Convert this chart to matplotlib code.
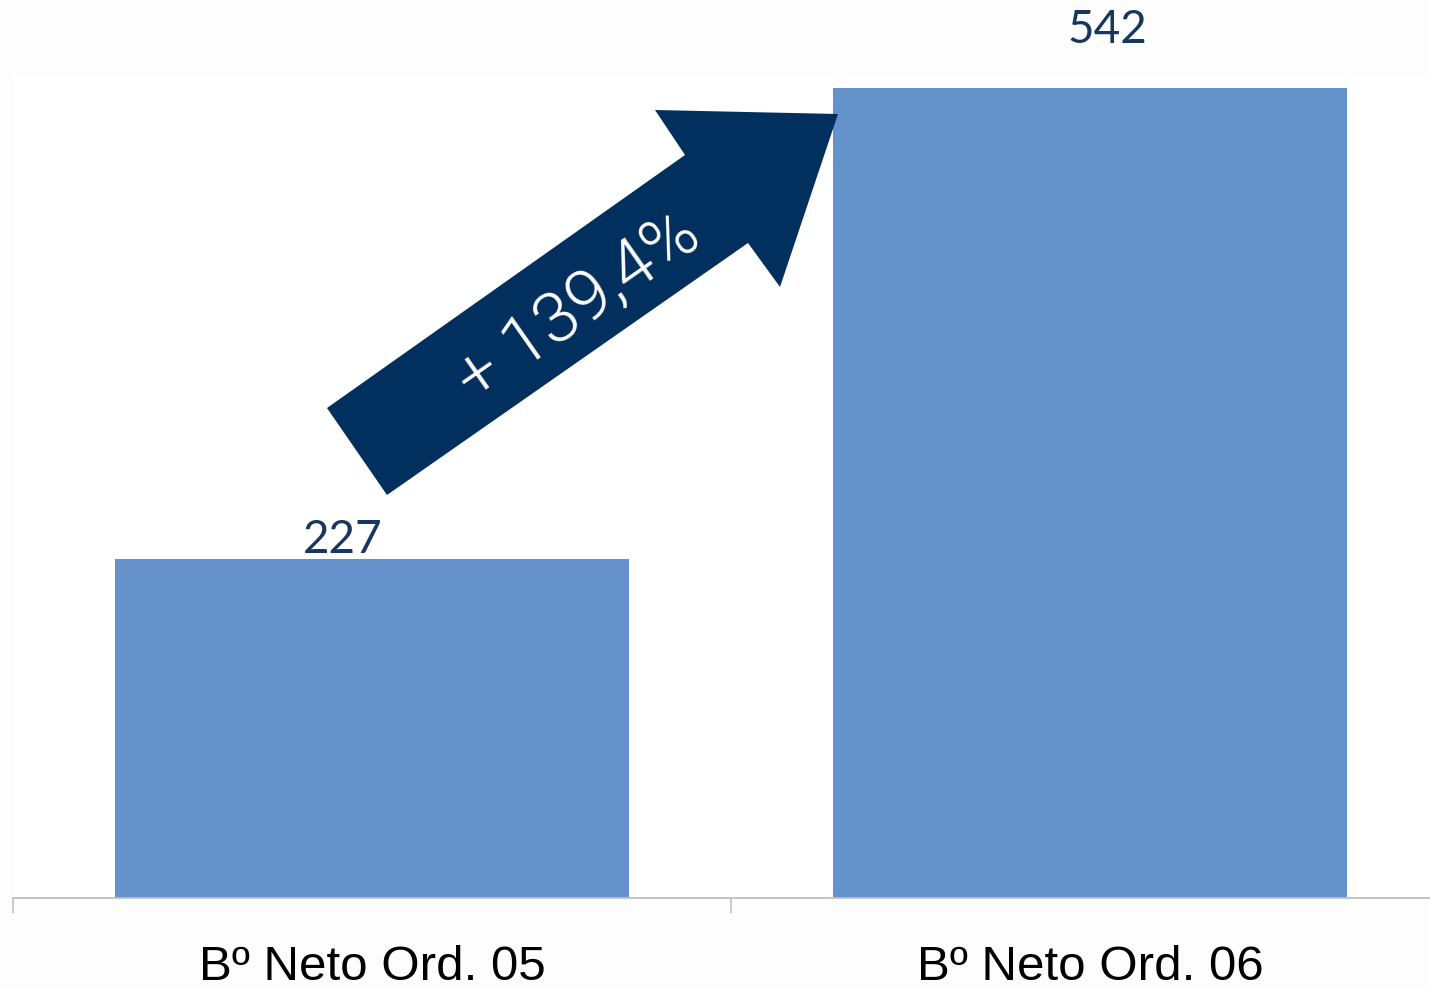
import matplotlib
matplotlib.use("Agg")
import matplotlib.pyplot as plt
from matplotlib.patches import Polygon

# ---- data ----
categories = ["Bº Neto Ord. 05", "Bº Neto Ord. 06"]
values = [227, 542]
value_labels = ["227", "542"]
growth_label = "+ 139,4%"

# ---- style ----
W, H = 1430, 988
bar_color = "#6692CB"
label_color = "#17375E"
arrow_color = "#02305E"
axis_color = "#BFBFBF"
label_offsets_px = [(-29, 6), (17, 45)]  # manual placement of value labels

fig = plt.figure(figsize=(W / 100, H / 100), dpi=100, facecolor="#FDFDFD")

def px(x, y):
    return (x / W, 1 - y / H)

# axes: left 13px, bottom 898px, top 75px, right beyond figure (x=1.5 at 1449px)
left, right, top, bottom = 13, 1449, 75, 898
ax = fig.add_axes([left / W, 1 - bottom / H, (right - left) / W, (bottom - top) / H])
ax.set_facecolor("white")

x = list(range(len(categories)))
ax.bar(x, values, width=0.715, color=bar_color, zorder=2)

ax.set_xlim(-0.5, 1.5)
ax.set_ylim(0, 550.7)

for s in ["left", "right", "top"]:
    ax.spines[s].set_visible(False)
ax.spines["bottom"].set_color(axis_color)
ax.spines["bottom"].set_linewidth(1.3)
ax.set_yticks([])

ax.set_xticks(x)
ax.set_xticklabels(categories, fontfamily="Liberation Sans", fontsize=35.5, color="black")
ax.tick_params(axis="x", which="major", length=0, pad=34)
ax.set_xticks([-0.5, 0.5, 1.5], minor=True)
ax.tick_params(axis="x", which="minor", length=11, width=1.1, color=axis_color, direction="out")

for xi, v, lab, (dx, dy) in zip(x, values, value_labels, label_offsets_px):
    ax.annotate(lab, xy=(xi, v), xytext=(dx, dy), textcoords="offset pixels",
                ha="center", va="baseline", fontsize=33, color=label_color,
                fontfamily="Lato")

# growth arrow (decorative annotation)
arrow_px = [(327, 408), (685, 155), (655, 110), (838, 114),
            (780, 287), (748, 243), (387, 495)]
arrow = Polygon([px(a, b) for a, b in arrow_px], closed=True,
                transform=fig.transFigure, facecolor=arrow_color,
                edgecolor="none", zorder=5)
fig.add_artist(arrow)
fig.text(*px(578, 307), growth_label, rotation=35, rotation_mode="anchor",
         ha="center", va="center", fontsize=51, color="white",
         fontfamily="Roboto", fontweight=300, zorder=6)

fig.savefig("out.png", dpi=100, facecolor=fig.get_facecolor())
